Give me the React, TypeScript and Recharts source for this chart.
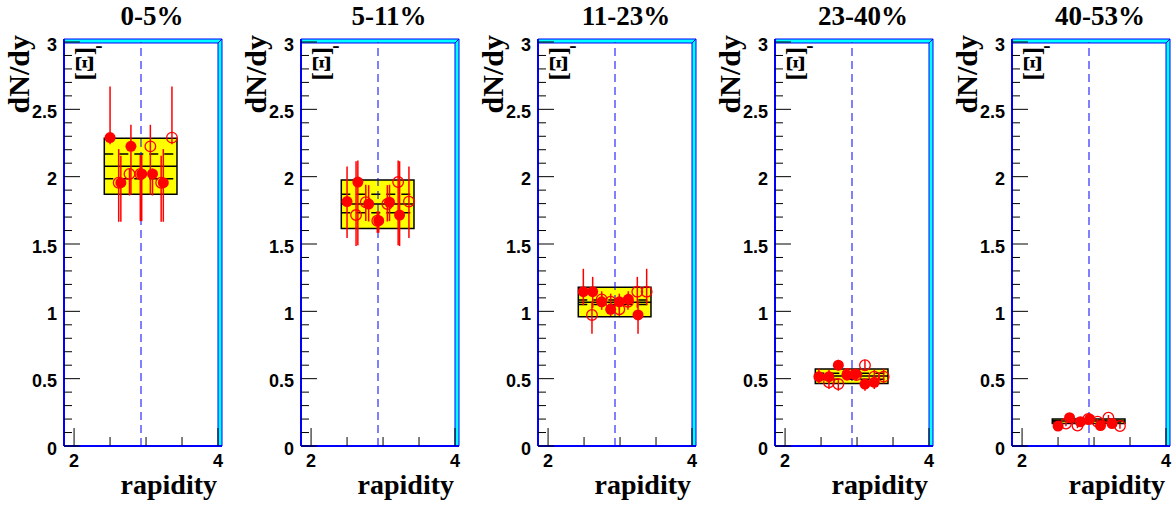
import { ComposedChart, Scatter, XAxis, YAxis, ReferenceArea, ReferenceLine, ErrorBar, Label } from 'recharts';

const centralities = ['0-5%', '5-11%', '11-23%', '23-40%', '40-53%'];

// measured points (filled) and their reflection about mid-rapidity (open)
const filledRapidity = [
  [2.5, 2.65, 2.79, 2.94, 3.09, 3.24],
  [2.5, 2.65, 2.8, 2.94, 3.09, 3.23],
  [2.49, 2.62, 2.745, 2.87, 2.99, 3.115, 3.25],
  [2.47, 2.61, 2.74, 2.86, 2.98, 3.11, 3.24],
  [2.5, 2.66, 2.81, 2.94, 3.09, 3.25],
];
const filledDNdy = [
  [2.29, 1.955, 2.225, 2.02, 2.02, 1.955],
  [1.815, 1.96, 1.797, 1.673, 1.81, 1.715],
  [1.146, 1.146, 1.071, 1.015, 1.071, 1.089, 0.973],
  [0.515, 0.515, 0.6, 0.527, 0.535, 0.46, 0.473],
  [0.148, 0.21, 0.18, 0.2, 0.152, 0.167],
];
const filledErrLow = [
  [0.05, 0.29, 0.36, 0.35, 0.16, 0.29],
  [0.27, 0.47, 0.13, 0.09, 0.14, 0.23],
  [0.1, 0.12, 0.06, 0.05, 0.06, 0.06, 0.14],
  [0.05, 0.05, 0.04, 0.04, 0.04, 0.05, 0.05],
  [0.02, 0.02, 0.02, 0.02, 0.02, 0.02],
];
const filledErrHigh = [
  [0.38, 0.2, 0.16, 0.14, 0.04, 0.25],
  [0.26, 0.16, 0.14, 0.07, 0.13, 0.4],
  [0.17, 0.11, 0.06, 0.05, 0.06, 0.06, 0.1],
  [0.06, 0.05, 0.04, 0.04, 0.04, 0.04, 0.05],
  [0.02, 0.02, 0.02, 0.02, 0.02, 0.02],
];

const openRapidity = [
  [2.62, 2.77, 2.92, 3.06, 3.21, 3.36],
  [2.625, 2.76, 2.92, 3.06, 3.21, 3.36],
  [2.61, 2.745, 2.87, 2.99, 3.11, 3.24, 3.37],
  [2.61, 2.74, 2.87, 2.99, 3.11, 3.24, 3.37],
  [2.61, 2.77, 2.92, 3.05, 3.2, 3.36],
];
const openDNdy = [
  [1.955, 2.02, 2.02, 2.225, 1.955, 2.29],
  [1.715, 1.81, 1.673, 1.797, 1.96, 1.815],
  [0.973, 1.089, 1.071, 1.015, 1.071, 1.146, 1.146],
  [0.473, 0.46, 0.535, 0.527, 0.6, 0.515, 0.515],
  [0.167, 0.152, 0.2, 0.18, 0.21, 0.148],
];
const openErrLow = [
  [0.29, 0.16, 0.35, 0.36, 0.29, 0.05],
  [0.23, 0.14, 0.09, 0.13, 0.47, 0.27],
  [0.14, 0.06, 0.06, 0.05, 0.06, 0.12, 0.1],
  [0.05, 0.05, 0.04, 0.04, 0.04, 0.05, 0.05],
  [0.02, 0.02, 0.02, 0.02, 0.02, 0.02],
];
const openErrHigh = [
  [0.25, 0.04, 0.14, 0.16, 0.2, 0.38],
  [0.4, 0.13, 0.07, 0.14, 0.16, 0.26],
  [0.1, 0.06, 0.06, 0.05, 0.06, 0.11, 0.17],
  [0.05, 0.04, 0.04, 0.04, 0.04, 0.05, 0.06],
  [0.02, 0.02, 0.02, 0.02, 0.02, 0.02],
];

// yellow band: integrated yield with its errors
const boxRapidity = [2.42, 3.43];
const boxLow = [1.869, 1.616, 0.96, 0.465, 0.168];
const boxHigh = [2.285, 1.975, 1.178, 0.572, 0.2];
const boxMid = [2.077, 1.797, 1.067, 0.52, 0.185];
const boxDashHigh = [2.168, 1.869, 1.085, 0.54, 0.19];
const boxDashLow = [1.985, 1.732, 1.05, 0.495, 0.178];
const midRapidity = 2.93;

const xTicks = [2, 2.5, 3, 3.5, 4];
const xTickLabels = [2, 4];
const yTicks = [
  0, 0.1, 0.2, 0.3, 0.4, 0.5, 0.6, 0.7, 0.8, 0.9, 1, 1.1, 1.2, 1.3, 1.4, 1.5,
  1.6, 1.7, 1.8, 1.9, 2, 2.1, 2.2, 2.3, 2.4, 2.5, 2.6, 2.7, 2.8, 2.9, 3,
];
const yTickLabels = [0, 0.5, 1, 1.5, 2, 2.5, 3];

const SERIF = '"Liberation Serif", "Times New Roman", serif';
const SANS = '"Liberation Sans", Arial, sans-serif';
const RED = '#ff0000';
const BLUE = '#0000ff';

const W = 230;
const H = 506;
const STEP = 237;

const XTick = (props: any) => {
  const { x, y, payload } = props;
  const major = xTickLabels.includes(payload.value);
  return (
    <g>
      <line x1={x} x2={x} y1={y} y2={y - (major ? 18 : 9)} stroke="#000" strokeWidth={1} />
      {major && (
        <text x={x} y={y + 21} textAnchor="middle" fontFamily={SANS} fontWeight="bold" fontSize={18} fill="#000">
          {payload.value}
        </text>
      )}
    </g>
  );
};

const YTick = (props: any) => {
  const { x, y, payload } = props;
  const major = yTickLabels.some((v) => Math.abs(v - payload.value) < 1e-6);
  return (
    <g>
      <line x1={x} x2={x + (major ? 16 : 8)} y1={y} y2={y} stroke="#000" strokeWidth={1} />
      {major && (
        <text x={x - 7} y={y + 8.5} textAnchor="end" fontFamily={SANS} fontWeight="bold" fontSize={18} fill="#000">
          {payload.value}
        </text>
      )}
    </g>
  );
};

const Frame = (p: any) => {
  const { x, y, width, height } = p;
  const r = x + width;
  const b = y + height;
  return (
    <g>
      <polygon points={`${x},${y - 3} ${r + 4},${y - 3} ${r},${y + 1} ${x},${y + 1}`} fill="#00ffff" stroke={BLUE} strokeWidth={1} />
      <polygon points={`${r},${y + 1} ${r + 4},${y - 3} ${r + 4},${b} ${r},${b}`} fill="#00ffff" stroke={BLUE} strokeWidth={1} />
      <line x1={x} x2={x} y1={y - 3} y2={b} stroke={BLUE} strokeWidth={2} />
      <line x1={x} x2={r + 4} y1={b} y2={b} stroke={BLUE} strokeWidth={2} />
    </g>
  );
};

const FilledDot = (p: any) => <circle cx={p.cx} cy={p.cy} r={5.5} fill={RED} />;
const OpenDot = (p: any) => <circle cx={p.cx} cy={p.cy} r={5.3} fill="none" stroke={RED} strokeWidth={1.3} />;

function Panel({ i }: { i: number }) {
  const filled = filledRapidity[i].map((x, k) => ({
    x,
    y: filledDNdy[i][k],
    err: [filledErrLow[i][k], filledErrHigh[i][k]],
  }));
  const open = openRapidity[i].map((x, k) => ({
    x,
    y: openDNdy[i][k],
    err: [openErrLow[i][k], openErrHigh[i][k]],
  }));

  return (
    <div style={{ position: 'absolute', left: i * STEP, top: 0, width: W, height: H }}>
      <ComposedChart width={W} height={H} margin={{ top: 42, right: 12, left: 0, bottom: 0 }}>
        <XAxis
          type="number"
          dataKey="x"
          domain={[1.86, 4]}
          ticks={xTicks}
          interval={0}
          allowDataOverflow
          height={60}
          tickSize={0}
          tickMargin={0}
          tick={<XTick />}
          axisLine={{ stroke: BLUE, strokeWidth: 2 }}
        >
          <Label
            content={(props: any) => {
              const vb = props.viewBox || { x: 64, y: 446, width: 154, height: 60 };
              return (
                <text x={vb.x + vb.width - 1} y={vb.y + 48} textAnchor="end" fontFamily={SERIF} fontWeight="bold" fontSize={28} fill="#000">
                  rapidity
                </text>
              );
            }}
          />
        </XAxis>
        <YAxis
          type="number"
          dataKey="y"
          domain={[0, 3]}
          ticks={yTicks}
          interval={0}
          allowDataOverflow
          width={64}
          tickSize={0}
          tickMargin={0}
          tick={<YTick />}
          axisLine={{ stroke: BLUE, strokeWidth: 2 }}
        >
          <Label
            content={(props: any) => {
              const vb = props.viewBox || { x: 0, y: 42, width: 64, height: 404 };
              const tx = vb.x + 28.5;
              const ty = vb.y - 7;
              const lx = vb.x + vb.width + 29;
              const ly = vb.y + 5;
              return (
                <g>
                  <text x={tx} y={ty} transform={`rotate(-90 ${tx} ${ty})`} textAnchor="end" fontFamily={SERIF} fontWeight="bold" fontSize={30} fill="#000">
                    dN/dy
                  </text>
                  <text x={lx} y={ly} transform={`rotate(-90 ${lx} ${ly})`} textAnchor="end" fontFamily={SERIF} fontWeight="bold" fontSize={25} fill="#000">
                    [Ξ]
                  </text>
                  <text x={lx + 6} y={ly + 5} textAnchor="middle" fontFamily={SERIF} fontWeight="bold" fontSize={22} fill="#000">
                    -
                  </text>
                </g>
              );
            }}
          />
        </YAxis>

        <ReferenceArea
          x1={boxRapidity[0]}
          x2={boxRapidity[1]}
          y1={boxLow[i]}
          y2={boxHigh[i]}
          fill="#ffff00"
          fillOpacity={1}
          stroke="#000"
          strokeWidth={1.5}
          ifOverflow="visible"
        />
        <ReferenceLine
          segment={[{ x: boxRapidity[0], y: boxMid[i] }, { x: boxRapidity[1], y: boxMid[i] }]}
          stroke="#000"
          strokeWidth={1.5}
        />
        <ReferenceLine
          segment={[{ x: boxRapidity[0], y: boxDashHigh[i] }, { x: boxRapidity[1], y: boxDashHigh[i] }]}
          stroke="#000"
          strokeWidth={1.5}
          strokeDasharray="9 6"
        />
        <ReferenceLine
          segment={[{ x: boxRapidity[0], y: boxDashLow[i] }, { x: boxRapidity[1], y: boxDashLow[i] }]}
          stroke="#000"
          strokeWidth={1.5}
          strokeDasharray="9 6"
        />
        <ReferenceLine x={midRapidity} stroke={BLUE} strokeWidth={1} strokeDasharray="8 5" />

        <Scatter data={open} shape={<OpenDot />} isAnimationActive={false}>
          <ErrorBar dataKey="err" direction="y" width={0} stroke={RED} strokeWidth={1.5} />
        </Scatter>
        <Scatter data={filled} shape={<FilledDot />} isAnimationActive={false}>
          <ErrorBar dataKey="err" direction="y" width={0} stroke={RED} strokeWidth={1.5} />
        </Scatter>

        <ReferenceArea x1={1.86} x2={4} y1={0} y2={3} ifOverflow="visible" shape={<Frame />} />
      </ComposedChart>
      <div
        style={{
          position: 'absolute',
          left: 64 + 88 - 80,
          top: 1,
          width: 160,
          textAlign: 'center',
          fontFamily: SERIF,
          fontWeight: 'bold',
          fontSize: 27,
          color: '#000',
        }}
      >
        {centralities[i]}
      </div>
    </div>
  );
}

export default function App() {
  return (
    <div style={{ position: 'absolute', left: 0, top: 0, width: 1175, height: 506, background: '#fff', overflow: 'hidden' }}>
      {centralities.map((c, i) => (
        <Panel key={c} i={i} />
      ))}
    </div>
  );
}
